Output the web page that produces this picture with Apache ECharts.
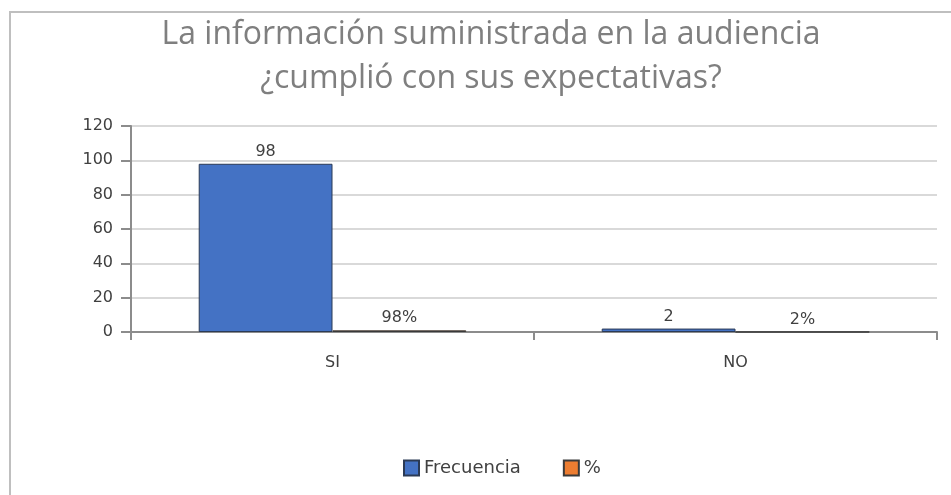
<!DOCTYPE html>
<html>
<head>
<meta charset="utf-8">
<script src="https://cdn.jsdelivr.net/npm/echarts@6/dist/echarts.min.js"></script>
<style>
  html, body { margin: 0; padding: 0; background: #fff; }
  #chart { width: 951px; height: 495px; }
</style>
</head>
<body>
<div id="chart"></div>
<script>
// chart data
const categories = ['SI', 'NO'];
const frecuencia = [98, 2];
const porcentaje = [0.98, 0.02];
const yTicks = [0, 20, 40, 60, 80, 100, 120];

const labelFont = 'DejaVu Sans, Verdana, sans-serif';

let chart = echarts.init(document.getElementById('chart'));
chart.setOption({
  backgroundColor: '#fff',
  animation: false,
  title: {
    text: 'La información suministrada en la audiencia\n¿cumplió con sus expectativas?',
    left: 486,
    top: 8,
    textAlign: 'center',
    textStyle: {
      color: '#7f7f7f',
      fontSize: 32,
      fontWeight: 'normal',
      fontFamily: 'Open Sans, sans-serif',
      lineHeight: 44
    }
  },
  graphic: [{
    type: 'polyline',
    shape: { points: [[10, 495], [10, 12], [951, 12]] },
    style: { stroke: '#bfbfbf', lineWidth: 2, fill: null }
  }],
  legend: {
    left: 398,
    top: 454,
    icon: 'rect',
    itemWidth: 15,
    itemHeight: 15,
    itemGap: 42,
    textStyle: { color: '#404040', fontSize: 18, fontFamily: labelFont },
    data: ['Frecuencia', '%']
  },
  grid: { left: 131, right: 14, top: 126, bottom: 163 },
  xAxis: {
    type: 'category',
    data: categories,
    axisLine: { lineStyle: { color: '#8c8c8c', width: 2 } },
    axisTick: { show: true, length: 8, lineStyle: { color: '#8c8c8c', width: 2 } },
    axisLabel: { color: '#404040', fontSize: 16, fontFamily: labelFont, margin: 23 }
  },
  yAxis: {
    type: 'value',
    min: 0,
    max: 120,
    interval: 20,
    axisLine: { show: true, lineStyle: { color: '#8c8c8c', width: 2 } },
    axisTick: { show: true, length: 10, lineStyle: { color: '#8c8c8c', width: 2 } },
    splitLine: { lineStyle: { color: '#d9d9d9', width: 2 } },
    axisLabel: {
      color: '#404040', fontSize: 16, fontFamily: labelFont, margin: 18,
      formatter: v => yTicks.includes(v) ? String(v) : ''
    }
  },
  series: [{
    name: 'Frecuencia',
    type: 'bar',
    data: frecuencia,
    barGap: '0%',
    barCategoryGap: '33.6%',
    itemStyle: { color: '#4472c4', borderColor: '#2b3a55', borderWidth: 1 },
    label: {
      show: true, position: 'top', distance: 4,
      color: '#404040', fontSize: 16, fontFamily: labelFont
    }
  }, {
    name: '%',
    type: 'bar',
    data: porcentaje,
    itemStyle: { color: '#ed7d31', borderColor: '#3a3a3a', borderWidth: 1 },
    label: {
      show: true, position: 'top', distance: 4,
      color: '#404040', fontSize: 16, fontFamily: labelFont,
      formatter: p => Math.round(p.value * 100) + '%'
    }
  }]
});
window.addEventListener('resize', () => { chart.resize(); });
</script>
</body>
</html>
